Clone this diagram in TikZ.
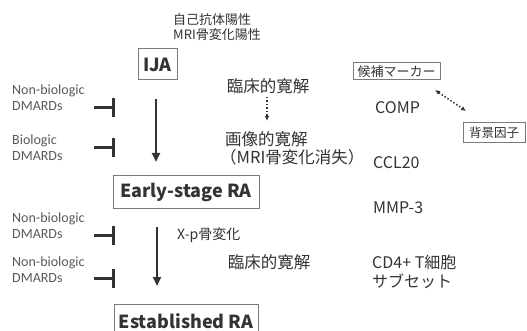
\documentclass[tikz,border=0pt]{standalone}
\usepackage{fontspec}
\setmainfont{Noto Sans CJK JP}
\newfontfamily\lblfont{Carlito}
\usetikzlibrary{arrows.meta}
\definecolor{txt}{HTML}{333333}
\definecolor{lbl}{HTML}{5A5A5A}
\definecolor{frame}{HTML}{7A7A7A}
\begin{document}
\begin{tikzpicture}[x=1pt,y=-1pt,
  every node/.style={inner sep=0pt, text=txt},
  boxnode/.style={draw=frame, line width=1pt, inner sep=0pt, align=center},
  stage/.style={boxnode, font=\bfseries\fontsize{18}{20}\selectfont},
  drug/.style={anchor=west, align=left, font=\lblfont\fontsize{14}{16}\selectfont, text=lbl},
  jp/.style={font=\fontsize{16.5}{18}\selectfont},
  small/.style={font=\fontsize{13}{15}\selectfont},
  marker/.style={anchor=west, align=left, font=\fontsize{16}{19}\selectfont},
  block/.style={-{Bar[width=19pt,line width=3pt]}, line width=3pt, draw=txt},
  flow/.style={-{Triangle[length=9pt,width=8pt]}, line width=2.4pt, draw=txt},
  dots/.style={dotted, line width=1.5pt, draw=txt}
]
\clip (0,0) rectangle (527,331);
\fill[white] (0,0) rectangle (527,331);

% top condition text
\node[small, anchor=west, align=left] (cond) at (173,27) {自己抗体陽性\\MRI骨変化陽性};

% stage boxes
\node[stage, minimum width=39pt, minimum height=31pt] (ija) at (157.5,64.5) {IJA};
\node[stage, minimum width=146pt, minimum height=32pt] (early) at (186,192) {Early-stage RA};
\node[stage, minimum width=144pt, minimum height=33pt, anchor=north] (est) at (186,304) {Established RA};

% drug labels
\node[drug] (d1) at (12,98) {Non-biologic\\DMARDs};
\node[drug] (d2) at (12,148) {Biologic\\DMARDs};
\node[drug] (d3) at (12,226) {Non-biologic\\DMARDs};
\node[drug] (d4) at (12,270) {Non-biologic\\DMARDs};

% inhibitor coordinates
\coordinate (b1s) at (94,108);  \coordinate (b1e) at (115,108);
\coordinate (b2s) at (94,148);  \coordinate (b2e) at (115,148);
\coordinate (b3s) at (94,235);  \coordinate (b3e) at (115,235);
\coordinate (b4s) at (94,278);  \coordinate (b4e) at (115,278);
\draw[block] (b1s) -- (b1e);
\draw[block] (b2s) -- (b2e);
\draw[block] (b3s) -- (b3e);
\draw[block] (b4s) -- (b4e);

% main flow arrows
\coordinate (f1s) at (156,99);  \coordinate (f1e) at (156,162);
\coordinate (f2s) at (157,227); \coordinate (f2e) at (157,286);
\draw[flow] (f1s) -- (f1e);
\draw[flow] (f2s) -- (f2e);

% remission texts
\node[jp] (cr1) at (268,86) {臨床的寛解};
\node[jp, anchor=west, align=left] (ir) at (220,148) {\hspace{5pt}画像的寛解\\（MRI骨変化消失）};
\coordinate (dd1) at (267,97); \coordinate (dd2) at (267,121);
\draw[dots, -{Latex[length=5pt,width=4.5pt]}] (dd1) -- (dd2);
\node[font=\fontsize{14}{16}\selectfont, anchor=west] (xp) at (177,235) {X-p骨変化};
\node[jp] (cr2) at (269,262) {臨床的寛解};

% markers
\node[boxnode, small, minimum width=87pt, minimum height=17pt] (cand) at (396.5,71.5) {候補マーカー};
\node[boxnode, font=\fontsize{12.5}{14}\selectfont, minimum width=62pt, minimum height=20pt] (bg) at (494,133) {背景因子};
\coordinate (m1) at (435,90); \coordinate (m2) at (466,111);
\draw[dots, {Latex[length=5pt,width=4.5pt]}-{Latex[length=5pt,width=4.5pt]}] (m1) -- (m2);

\node[marker] (comp) at (375,108) {COMP};
\node[marker] (ccl) at (373,163) {CCL20};
\node[marker] (mmp) at (373,208) {MMP-3};
\node[marker] (cd4) at (372,272) {CD4+ T細胞\\サブセット};
\end{tikzpicture}
\end{document}
